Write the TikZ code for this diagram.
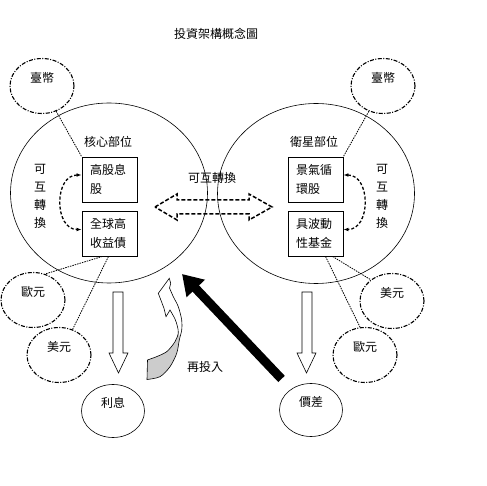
\documentclass[tikz,border=0pt]{standalone}
\usepackage{fontspec}
\setmainfont{Noto Sans CJK TC}
\usetikzlibrary{shapes.geometric, arrows.meta}

\begin{document}
\begin{tikzpicture}[
        x=1pt, y=-1pt, % координаты в пикселях, ось y вниз
        font=\fontsize{12}{18}\selectfont,
        thin line/.style = {line width=0.6pt},
        ring/.style = {ellipse, draw, line width=0.6pt, minimum width=197pt, minimum height=180pt, inner sep=0pt}, % большие круги
        coin/.style = {ellipse, draw, line width=1.1pt, dash pattern=on 4pt off 1.5pt on 1pt off 1.5pt, minimum width=64pt, minimum height=55pt, inner sep=0pt, text depth=17pt}, % валюты
        sink/.style = {ellipse, draw, line width=0.6pt, minimum width=63pt, minimum height=53pt, inner sep=0pt, text depth=17pt},
        cell/.style = {draw, line width=0.8pt, align=left, text width=39pt, inner xsep=8pt, minimum height=45pt, font=\fontsize{12}{19}\selectfont}, % блоки
        link/.style = {line width=0.8pt, dash pattern=on 1.5pt off 1pt},
        swap/.style = {line width=1.3pt, dash pattern=on 3pt off 2pt, {Latex[length=5pt]}-{Latex[length=5pt]}},
        dashline/.style = {line width=1.5pt, dash pattern=on 4pt off 2pt},
        hollow/.style = {draw, line width=0.6pt, fill=white},
        fat/.style = {line width=9pt, -{Triangle[length=20pt, width=24pt]}},
    ]

    \useasboundingbox (0,0) rectangle (487,486);

    \node (title) at (216,34) {投資架構概念圖};

    \node[ring] (core) at (109,193) {};
    \node[ring] (sat) at (316,193.5) {};
    \node (coreLbl) at (108,142) {核心部位};
    \node (satLbl) at (314,142) {衛星部位};

    \node[cell] (hi) at (109.5,179.5) {高股息\\股};
    \node[cell] (hy) at (109.5,233.5) {全球高\\收益債};
    \node[cell] (cyc) at (315.5,179.5) {景氣循\\環股};
    \node[cell] (vol) at (315.5,233.5) {具波動\\性基金};

    \node[align=center] (swL) at (40,196) {可\\互\\轉\\換};
    \node[align=center] (swR) at (382,196) {可\\互\\轉\\換};
    \node (swM) at (212,178) {可互轉換};

    \node[coin] (twdL) at (42,86) {臺幣};
    \node[coin] (twdR) at (383,86) {臺幣};
    \node[coin] (eurL) at (33,300) {歐元};
    \node[coin] (usdL) at (59,355) {美元};
    \node[coin] (usdR) at (392,301) {美元};
    \node[coin] (eurR) at (365,355) {歐元};

    \node[sink] (intr) at (113,411) {利息};
    \node[sink] (sprd) at (311,410) {價差};
    \node (reinv) at (205,367) {再投入};

    \draw[link] (twdL) -- (hi.north west);
    \draw[link] (twdR) -- (cyc.north east);
    \draw[link] ([xshift=-7pt]hy.south) -- (eurL.65);
    \draw[link] ([xshift=-1pt]hy.south) -- (usdL.62);
    \draw[link] ([xshift=17pt]vol.south) -- (usdR.135);
    \draw[link] ([xshift=10pt]vol.south) -- (eurR.100);

    \draw[swap] ([yshift=4.5pt]hi.west) to[out=180, in=180, looseness=1.3] ([yshift=4pt]hy.west);
    \draw[swap] ([yshift=4.5pt]cyc.east) to[out=0, in=0, looseness=1.3] ([yshift=4pt]vol.east);

    % двойная стрелка
    \draw[dashline] (155,207) -- (177,194) -- (177,200) -- (249,200) -- (249,194) -- (272,207)
        -- (249,220) -- (249,214) -- (177,214) -- (177,220) -- cycle;

    % стрелки вниз
    \draw[hollow] (113,292) -- (123,292) -- (123,353) -- (128,353) -- (118.5,373) -- (109,353) -- (113,353) -- cycle;
    \draw[hollow] (302,292) -- (312,292) -- (312,353) -- (316,353) -- (306.5,373) -- (297,353) -- (302,353) -- cycle;

    % изогнутая стрелка
    \fill[black!20] (147.5,360) -- plot[smooth] coordinates {(155,357.3) (166.7,351.7) (175,341.7) (178.3,333)}
        -- plot[smooth] coordinates {(179.8,336) (179.3,340) (176.7,353.3) (170,366.7) (160,376.7) (147,379.5)} -- cycle;
    \draw[thin line] (169.3,278.3) -- (170.7,283.3)
        -- plot[smooth] coordinates {(169.5,288) (173.3,296.7) (178.3,306.7) (181.7,320) (181.7,330) (179.3,340) (176.7,353.3) (170,366.7) (160,376.7) (147,379.5)}
        -- (147.5,360)
        -- plot[smooth] coordinates {(155,357.3) (166.7,351.7) (175,341.7) (178.3,333) (177.3,326) (175,319) (170,310)}
        -- (166,316.7) -- (164,308.3) -- (158.3,293.3) -- cycle;

    \coordinate (back) at (182,274);
    \draw[fat, shorten <=14pt] (sprd) -- (back);
\end{tikzpicture}
\end{document}
